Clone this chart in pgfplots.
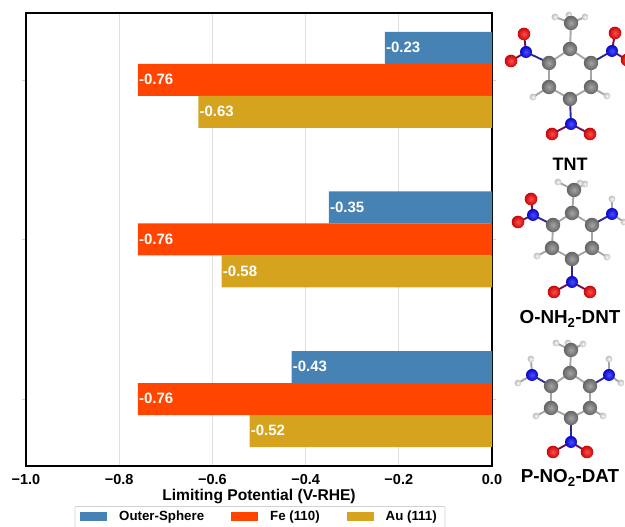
\documentclass[border=0pt]{standalone}
\usepackage{pgfplots}
\pgfplotsset{compat=1.18}
\usepackage{fontspec}
\setmainfont{Liberation Sans}
\definecolor{cOuter}{HTML}{4682B4}
\definecolor{cFe}{HTML}{FF4500}
\definecolor{cAu}{HTML}{D6A31F}
\definecolor{cN}{HTML}{0808FF}
\definecolor{cO}{HTML}{FF0808}
\definecolor{cC}{HTML}{808080}
\definecolor{cH}{HTML}{F4F4F4}
\definecolor{bN}{HTML}{2A2A90}
\definecolor{bO}{HTML}{701050}
\newcommand{\bonds}[2]{\foreach \a/\b/\c/\d in {#2} \draw[#1,line width=1.9pt] (\a,\b)--(\c,\d);}
\newcommand{\balls}[3]{\foreach \a/\b in {#3} \shade[inner color=#1!72!white, outer color=#1!78!black] (\a,\b) circle (#2);}
\begin{document}
\begin{tikzpicture}
\path[use as bounding box] (0,0) rectangle (625pt,527pt);
\begin{axis}[
  at={(26pt,61pt)}, anchor=south west,
  scale only axis, width=466pt, height=453pt,
  xmin=-1, xmax=0, ymin=-0.42, ymax=2.42,
  xbar, bar width=32pt,
  xtick={-1,-0.8,-0.6,-0.4,-0.2,0},
  xticklabels={\textbf{−1.0},\textbf{−0.8},\textbf{−0.6},\textbf{−0.4},\textbf{−0.2},\textbf{0.0}},
  ytick={0,1,2}, yticklabels={},
  tick label style={font=\fontsize{14.5}{14.5}\selectfont},
  xlabel={\textbf{Limiting Potential (V-RHE)}},
  xlabel style={font=\fontsize{15.6}{16}\selectfont, at={(axis description cs:0.5,0)}, anchor=north, yshift=-19.5pt},
  xmajorgrids, grid style={gray!25, line width=0.8pt},
  axis line style={black, line width=2.6pt},
  xtick style={draw=none},
  ytick style={gray!35, line width=0.5pt},
  tick align=outside,
  major tick length=4pt,
  xticklabel style={yshift=-1pt},
  clip=false,
  nodes near coords={\textbf{\pgfmathprintnumber[fixed,fixed zerofill,precision=2,assume math mode=true]{\pgfplotspointmeta}}},
  nodes near coords style={font=\fontsize{15}{15}\selectfont, text=white, anchor=west, inner sep=1pt, yshift=0.5pt},
  every node near coord/.append style={anchor=west},
  legend columns=3,
  legend style={at={(50pt,-38pt)}, anchor=north west, legend cell align=left, draw=none, fill=none,
    font=\fontsize{13.3}{14}\selectfont\bfseries, inner xsep=4pt, inner ysep=5pt,
    /tikz/every odd column/.append style={column sep=10pt},
    /tikz/every even column/.append style={column sep=25pt}},
  legend image code/.code={\fill[#1] (0pt,-4.5pt) rectangle (27pt,4.5pt);},
]
\addplot[fill=cOuter, draw=none, bar shift=32pt] coordinates {(-0.43,0) (-0.35,1) (-0.23,2)};
\addplot[fill=cFe, draw=none, bar shift=0pt] coordinates {(-0.76,0) (-0.76,1) (-0.76,2)};
\addplot[fill=cAu, draw=none, bar shift=-32pt] coordinates {(-0.52,0) (-0.58,1) (-0.63,2)};
\legend{Outer-Sphere,Fe (110),Au (111)}
\end{axis}
\begin{scope}[yshift=527pt,x=1pt,y=-1pt]
\clip (0,0) rectangle (625,527);
\draw[gray!35, line width=0.7pt, rounded corners=1pt] (75,506.5) rectangle (445,540);
\end{scope}
\begin{scope}[yshift=527pt,x=1pt,y=-1pt]
\clip (497,0) rectangle (625,527);
% TNT
\bonds{gray!70}{571/23/555/17,571/23/569/15,571/23/585/17,570/49/571/23,570/49/549/63,570/49/591/63,549/63/549/87,591/63/591/87,549/87/570/99,591/87/570/99,549/87/533/97,591/87/607/96}
\bonds{bN}{549/63/526/52,591/63/612/51,570/99/571/124}
\bonds{bO}{526/52/524/34,526/52/511/61,612/51/615/33,612/51/627/60,571/124/552/134,571/124/590/134}
\balls{cH}{3.4pt}{555/17,569/15,585/17,533/97,607/96}
\balls{cC}{7.2pt}{571/23,570/49,549/63,591/63,549/87,591/87,570/99}
\balls{cN}{6pt}{526/52,612/51,571/124}
\balls{cO}{6.3pt}{524/34,511/61,615/33,627/60,552/134,590/134}
% O-NH2-DNT
\bonds{gray!70}{574/190/558/182,574/190/580/183,574/190/585/184,572/213/574/190,572/213/553/225,572/213/592/225,553/225/552/248,592/225/592/248,552/248/572/259,592/248/572/259,552/248/537/256,592/248/607/257,612/214/612/199,612/214/624/222}
\bonds{bN}{553/225/533/215,592/225/612/214,572/259/572/282}
\bonds{bO}{533/215/531/199,533/215/518/222,572/282/554/292,572/282/590/292}
\balls{cH}{3.4pt}{558/182,580/183,585/184,537/256,607/257,612/199,624/222}
\balls{cC}{7.2pt}{574/190,572/213,553/225,592/225,552/248,592/248,572/259}
\balls{cN}{6pt}{533/215,612/214,572/282}
\balls{cO}{6.3pt}{531/199,518/222,554/292,590/292}
% P-NO2-DAT
\bonds{gray!70}{571/350/556/343,571/350/568/343,571/350/583/344,570/373/571/350,570/373/551/386,570/373/590/386,551/386/551/408,590/386/590/408,551/408/571/418,590/408/571/418,551/408/536/416,590/408/603/416,532/375/531/359,532/375/518/383,609/375/609/359,609/375/621/383}
\bonds{bN}{551/386/532/375,590/386/609/375,571/418/571/442}
\bonds{bO}{571/442/553/452,571/442/587/452}
\balls{cH}{3.4pt}{556/343,568/343,583/344,536/416,603/416,531/359,518/383,609/359,621/383}
\balls{cC}{7.2pt}{571/350,570/373,551/386,590/386,551/408,590/408,571/418}
\balls{cN}{6pt}{532/375,609/375,571/442}
\balls{cO}{6.3pt}{553/452,587/452}
\end{scope}
\begin{scope}[yshift=527pt,x=1pt,y=-1pt]
\node[font=\fontsize{18}{18}\selectfont\bfseries] at (570,164) {TNT};
\node[font=\fontsize{18.8}{18}\selectfont\bfseries] at (570,319) {O-NH\textsubscript{2}-DNT};
\node[font=\fontsize{18.8}{18}\selectfont\bfseries] at (570,478) {P-NO\textsubscript{2}-DAT};
\end{scope}
\end{tikzpicture}
\end{document}
